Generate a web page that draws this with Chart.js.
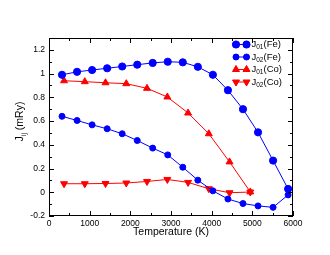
<!DOCTYPE html>
<html>
<head>
<meta charset="utf-8">
<script src="https://cdn.jsdelivr.net/npm/chart.js@4"></script>
<style>
  body { margin: 0; background: #fff; }
</style>
</head>
<body>
<canvas id="jijChart" width="330" height="255"></canvas>
<script>
// temperature grids (K)
const feTemps = [320, 690, 1060, 1430, 1800, 2170, 2550, 2920, 3290, 3660, 4030, 4400, 4770, 5140, 5510, 5880];
const coTemps = [370, 880, 1390, 1900, 2410, 2910, 3420, 3930, 4440, 4950];

// exchange parameters (mRy)
const j01Fe = [0.99, 1.015, 1.03, 1.045, 1.06, 1.075, 1.09, 1.10, 1.095, 1.057, 0.99, 0.86, 0.70, 0.505, 0.267, 0.028];
const j02Fe = [0.64, 0.605, 0.568, 0.535, 0.493, 0.436, 0.372, 0.315, 0.211, 0.102, 0.012, -0.057, -0.095, -0.115, -0.127, -0.022];
const j01Co = [0.94, 0.932, 0.923, 0.915, 0.876, 0.803, 0.668, 0.493, 0.256, 0.003];
const j02Co = [0.072, 0.072, 0.074, 0.078, 0.091, 0.108, 0.083, 0.03, -0.004, 0.002];

const xTicks = [0, 1000, 2000, 3000, 4000, 5000, 6000];
const yTicks = [-0.2, 0, 0.2, 0.4, 0.6, 0.8, 1, 1.2];

const FONT = 'Liberation Sans, Arial, Helvetica, sans-serif';
const BLUE = '#0000ff';
const RED = '#ff0000';

function pts(xs, ys) {
    return xs.map((x, i) => ({x: x, y: ys[i]}));
}

const series = [
    {sub: '01', tail: '(Fe)', data: pts(feTemps, j01Fe), color: BLUE, style: 'circle', r: 3.6, rot: 0},
    {sub: '02', tail: '(Fe)', data: pts(feTemps, j02Fe), color: BLUE, style: 'circle', r: 3, rot: 0},
    {sub: '01', tail: '(Co)', data: pts(coTemps, j01Co), color: RED, style: 'triangle', r: 4, rot: 0},
    {sub: '02', tail: '(Co)', data: pts(coTemps, j02Co), color: RED, style: 'triangle', r: 4, rot: 180}
];

// box, inward ticks, legend with subscripts, y title
const decorations = {
    id: 'decorations',
    afterDraw(chart) {
        const ctx = chart.ctx;
        const a = chart.chartArea;
        const x = chart.scales.x, y = chart.scales.y;
        ctx.save();
        ctx.strokeStyle = '#000';
        ctx.lineWidth = 1;
        ctx.strokeRect(a.left + 0.5, a.top + 0.5, a.right - a.left - 1, a.bottom - a.top - 1);

        ctx.beginPath();
        for (let t = 0; t <= 6000; t += 500) {
            const px = Math.round(x.getPixelForValue(t)) + 0.5;
            const len = t % 1000 === 0 ? 5 : 3;
            ctx.moveTo(px, a.bottom); ctx.lineTo(px, a.bottom - len);
            ctx.moveTo(px, a.top); ctx.lineTo(px, a.top + len);
        }
        for (let k = 0; k <= 15; k++) {
            const v = -0.2 + k * 0.1;
            const py = Math.round(y.getPixelForValue(v)) + 0.5;
            const len = k % 2 === 0 ? 5 : 3;
            ctx.moveTo(a.left, py); ctx.lineTo(a.left + len, py);
            ctx.moveTo(a.right, py); ctx.lineTo(a.right - len, py);
        }
        ctx.stroke();

        // legend
        ctx.textBaseline = 'middle';
        ctx.textAlign = 'left';
        series.forEach((s, i) => {
            const ly = 44.5 + i * 12.5;
            ctx.strokeStyle = s.color;
            ctx.fillStyle = s.color;
            ctx.lineWidth = 1;
            ctx.beginPath();
            ctx.moveTo(236, ly); ctx.lineTo(246.5, ly);
            ctx.stroke();
            [236, 246.5].forEach(mx => {
                Chart.helpers.drawPoint(ctx, {pointStyle: s.style, radius: s.r, rotation: s.rot, borderWidth: 1}, mx, ly);
                ctx.fill();
            });
            ctx.fillStyle = '#000';
            let tx = 251.5;
            ctx.font = '9.5px ' + FONT;
            ctx.fillText('J', tx, ly);
            tx += ctx.measureText('J').width;
            ctx.font = '6.5px ' + FONT;
            ctx.fillText(s.sub, tx, ly + 3);
            tx += ctx.measureText(s.sub).width;
            ctx.font = '9.5px ' + FONT;
            ctx.fillText(s.tail, tx, ly);
        });

        // y axis title
        ctx.translate(20.5, 121.5);
        ctx.rotate(-Math.PI / 2);
        ctx.fillStyle = '#000';
        ctx.textBaseline = 'middle';
        ctx.font = '10.5px ' + FONT;
        const w1 = ctx.measureText('J').width;
        ctx.font = '7px ' + FONT;
        const w2 = ctx.measureText('ij').width;
        ctx.font = '10.5px ' + FONT;
        const w3 = ctx.measureText(' (mRy)').width;
        let tx = -(w1 + w2 + w3) / 2;
        ctx.textAlign = 'left';
        ctx.fillText('J', tx, 0);
        tx += w1;
        ctx.font = '7px ' + FONT;
        ctx.fillText('ij', tx, 3.5);
        tx += w2;
        ctx.font = '10.5px ' + FONT;
        ctx.fillText(' (mRy)', tx, 0);
        ctx.restore();
    }
};

Chart.defaults.color = '#000';
Chart.defaults.font.family = FONT;

const ctx = document.getElementById('jijChart').getContext('2d');
new Chart(ctx, {
    type: 'line',
    data: {
        datasets: series.map(s => ({
            label: 'J' + s.sub + s.tail,
            data: s.data,
            borderColor: s.color,
            backgroundColor: s.color,
            borderWidth: 1,
            pointStyle: s.style,
            pointRadius: s.r,
            pointRotation: s.rot,
            pointBorderWidth: 1,
            tension: 0,
            clip: false
        }))
    },
    options: {
        responsive: false,
        animation: false,
        layout: {padding: {top: 38, right: 37, left: 0, bottom: 0}},
        plugins: {legend: {display: false}, tooltip: {enabled: false}},
        scales: {
            x: {
                type: 'linear',
                min: 0,
                max: 6000,
                afterFit: s => { s.height = 39; },
                afterBuildTicks: s => { s.ticks = xTicks.map(v => ({value: v})); },
                grid: {display: false, drawTicks: false},
                border: {display: false},
                ticks: {font: {size: 8.5}, padding: 3, maxRotation: 0, callback: v => String(v)},
                title: {display: true, text: 'Temperature (K)', font: {size: 10.5}, padding: {top: 0, bottom: 17}}
            },
            y: {
                min: -0.2,
                max: 1.3,
                afterFit: s => { s.width = 49; },
                afterBuildTicks: s => { s.ticks = yTicks.map(v => ({value: v})); },
                grid: {display: false, drawTicks: false},
                border: {display: false},
                ticks: {font: {size: 8.5}, padding: 4, callback: v => String(Math.round(v * 10) / 10)}
            }
        }
    },
    plugins: [decorations]
});
</script>
</body>
</html>
